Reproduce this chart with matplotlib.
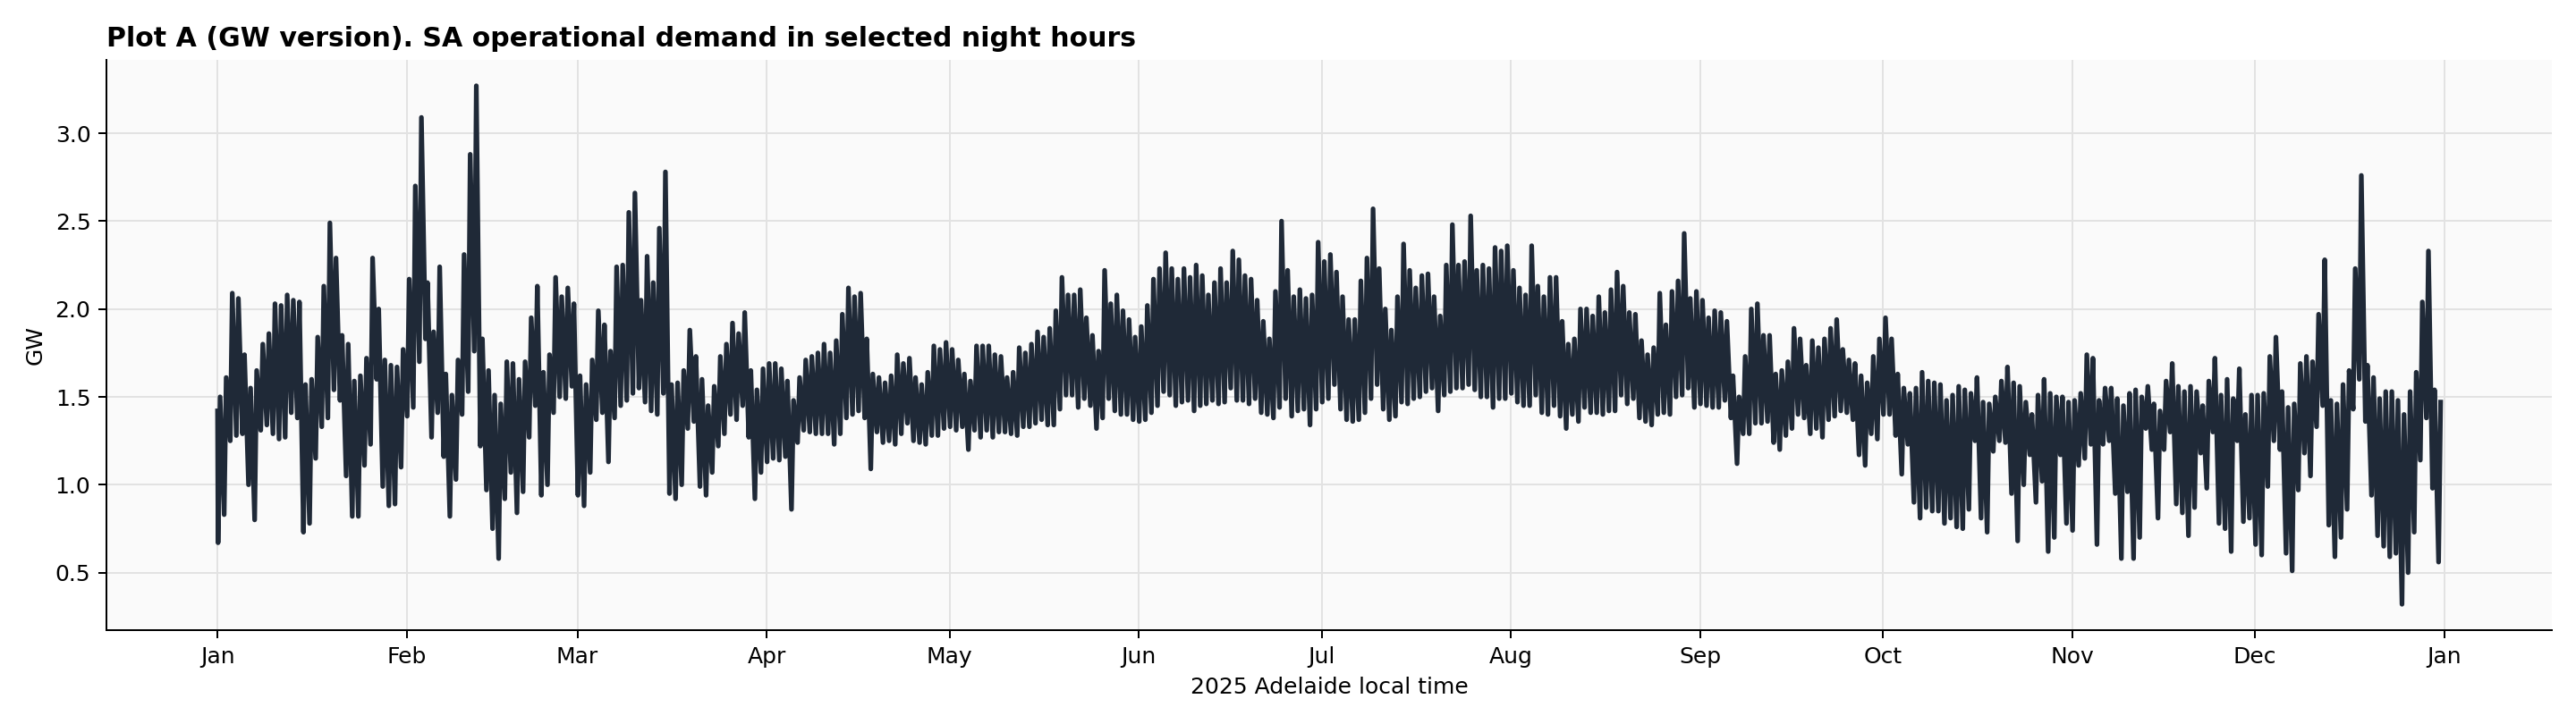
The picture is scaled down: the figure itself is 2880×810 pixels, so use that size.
import numpy as np
import matplotlib
matplotlib.use("Agg")
import matplotlib.pyplot as plt
import matplotlib.dates as mdates

# SA operational demand (GW), two selected night readings per day of 2025
# first reading of the year (midnight, 1 Jan)
first_reading_gw = 1.42

# daily trough (earlier night hour)
night_low = [
    # Jan
    0.67, 0.83, 1.25, 1.28, 1.29, 1.00, 0.80, 1.31, 1.34, 1.29, 1.26, 1.27, 1.41, 1.38, 0.73, 0.78,
    1.15, 1.33, 1.38, 1.54, 1.48, 1.05, 0.82, 0.82, 1.11, 1.23, 1.60, 0.99, 0.88, 0.89, 1.10,
    # Feb
    1.39, 1.44, 1.70, 1.83, 1.27, 1.41, 1.16, 0.82, 1.03, 1.40, 1.53, 1.76, 1.22, 0.97, 0.75, 0.58,
    0.92, 1.07, 0.84, 0.96, 1.27, 1.45, 0.94, 1.00, 1.41, 1.50, 1.49, 1.56,
    # Mar
    0.94, 0.88, 1.07, 1.37, 1.41, 1.13, 1.38, 1.45, 1.48, 1.52, 1.55, 1.47, 1.42, 1.40, 1.52, 0.95,
    0.92, 1.00, 1.32, 1.36, 0.99, 0.94, 1.07, 1.22, 1.29, 1.40, 1.37, 1.45, 1.27, 0.92, 1.07,
    # Apr
    1.13, 1.15, 1.14, 1.16, 0.86, 1.24, 1.31, 1.30, 1.29, 1.29, 1.29, 1.23, 1.29, 1.38, 1.40, 1.42,
    1.38, 1.09, 1.30, 1.24, 1.25, 1.23, 1.29, 1.35, 1.25, 1.24, 1.23, 1.28, 1.28, 1.32,
    # May
    1.33, 1.31, 1.33, 1.20, 1.31, 1.27, 1.31, 1.27, 1.30, 1.30, 1.29, 1.28, 1.33, 1.33, 1.35, 1.37,
    1.34, 1.34, 1.43, 1.51, 1.51, 1.44, 1.49, 1.45, 1.32, 1.38, 1.49, 1.42, 1.40, 1.40, 1.37,
    # Jun
    1.36, 1.37, 1.41, 1.45, 1.53, 1.51, 1.45, 1.47, 1.48, 1.42, 1.45, 1.46, 1.48, 1.46, 1.47, 1.55,
    1.48, 1.48, 1.46, 1.49, 1.41, 1.40, 1.38, 1.44, 1.49, 1.39, 1.42, 1.43, 1.34, 1.43,
    # Jul
    1.47, 1.49, 1.57, 1.43, 1.37, 1.36, 1.37, 1.41, 1.49, 1.57, 1.43, 1.37, 1.39, 1.47, 1.46, 1.49,
    1.50, 1.53, 1.55, 1.42, 1.51, 1.53, 1.55, 1.55, 1.57, 1.54, 1.50, 1.50, 1.44, 1.49, 1.49,
    # Aug
    1.52, 1.47, 1.45, 1.45, 1.51, 1.41, 1.40, 1.45, 1.39, 1.32, 1.40, 1.36, 1.44, 1.41, 1.41, 1.40,
    1.42, 1.42, 1.51, 1.46, 1.49, 1.38, 1.36, 1.34, 1.40, 1.41, 1.40, 1.50, 1.51, 1.55, 1.44,
    # Sep
    1.46, 1.45, 1.44, 1.44, 1.48, 1.38, 1.12, 1.29, 1.29, 1.35, 1.35, 1.36, 1.24, 1.20, 1.28, 1.32,
    1.40, 1.38, 1.29, 1.32, 1.27, 1.37, 1.39, 1.42, 1.41, 1.37, 1.17, 1.11, 1.29, 1.26,
    # Oct
    1.40, 1.40, 1.28, 1.06, 1.23, 0.90, 0.81, 0.87, 0.85, 0.85, 0.78, 0.81, 0.76, 0.75, 0.86, 1.25,
    0.81, 0.73, 1.19, 1.25, 1.24, 0.95, 0.68, 1.00, 1.17, 0.90, 1.02, 0.62, 0.70, 1.17, 0.78,
    # Nov
    0.74, 1.11, 1.15, 1.23, 0.66, 1.23, 1.25, 0.95, 0.58, 0.96, 0.58, 0.70, 1.32, 1.20, 0.81, 1.20,
    1.30, 0.89, 0.84, 0.71, 0.87, 1.18, 0.98, 1.30, 0.78, 0.75, 0.62, 1.25, 0.79, 0.81,
    # Dec
    0.66, 0.60, 0.99, 1.25, 1.20, 0.61, 0.51, 0.97, 1.18, 1.05, 1.33, 1.45, 0.77, 0.59, 0.70, 0.86,
    1.43, 1.60, 1.36, 0.94, 0.71, 0.65, 0.59, 0.61, 0.32, 0.50, 0.73, 1.14, 1.38, 0.98, 0.56,
]

# daily peak (later night hour)
night_high = [
    # Jan
    1.50, 1.61, 2.09, 2.06, 1.74, 1.55, 1.65, 1.80, 1.86, 2.03, 2.02, 2.08, 2.05, 2.04, 1.57, 1.60,
    1.84, 2.13, 2.49, 2.29, 1.85, 1.80, 1.59, 1.62, 1.72, 2.29, 2.00, 1.71, 1.68, 1.67, 1.77,
    # Feb
    2.17, 2.70, 3.09, 2.15, 1.87, 2.24, 1.63, 1.51, 1.71, 2.31, 2.88, 3.27, 1.83, 1.65, 1.51, 1.46,
    1.70, 1.69, 1.60, 1.70, 1.95, 2.13, 1.64, 1.74, 2.18, 2.07, 2.12, 2.03,
    # Mar
    1.62, 1.57, 1.71, 1.99, 1.91, 1.76, 2.24, 2.25, 2.55, 2.66, 2.05, 2.30, 2.15, 2.46, 2.78, 1.57,
    1.58, 1.65, 1.88, 1.73, 1.60, 1.45, 1.56, 1.73, 1.80, 1.92, 1.86, 1.98, 1.65, 1.54, 1.66,
    # Apr
    1.69, 1.69, 1.66, 1.59, 1.48, 1.61, 1.71, 1.73, 1.75, 1.80, 1.75, 1.82, 1.97, 2.12, 2.07, 2.09,
    1.83, 1.63, 1.61, 1.58, 1.62, 1.74, 1.69, 1.72, 1.61, 1.57, 1.64, 1.79, 1.77, 1.81,
    # May
    1.77, 1.71, 1.63, 1.59, 1.79, 1.79, 1.79, 1.74, 1.73, 1.61, 1.64, 1.78, 1.75, 1.80, 1.87, 1.84,
    1.89, 1.99, 2.18, 2.08, 2.08, 2.11, 1.95, 1.85, 1.76, 2.22, 2.03, 2.08, 1.99, 1.94, 1.84,
    # Jun
    1.90, 2.02, 2.17, 2.23, 2.32, 2.23, 2.17, 2.23, 2.18, 2.25, 2.19, 2.08, 2.15, 2.23, 2.15, 2.33,
    2.28, 2.19, 2.17, 2.05, 1.93, 1.83, 2.10, 2.50, 2.22, 2.07, 2.11, 2.06, 2.08, 2.38,
    # Jul
    2.27, 2.31, 2.21, 2.07, 1.94, 1.94, 2.16, 2.29, 2.57, 2.23, 2.00, 1.88, 2.07, 2.37, 2.22, 2.12,
    2.19, 2.20, 2.07, 1.96, 2.25, 2.48, 2.25, 2.27, 2.53, 2.22, 2.25, 2.23, 2.35, 2.33, 2.36,
    # Aug
    2.22, 2.12, 2.08, 2.36, 2.13, 2.07, 2.18, 2.18, 1.93, 1.80, 1.83, 2.00, 2.00, 1.96, 2.07, 1.98,
    2.11, 2.21, 2.13, 1.98, 1.97, 1.82, 1.74, 1.78, 2.09, 1.91, 2.10, 2.16, 2.43, 2.06, 2.10,
    # Sep
    2.05, 1.95, 1.99, 1.98, 1.93, 1.62, 1.50, 1.73, 2.00, 2.03, 1.85, 1.85, 1.63, 1.65, 1.70, 1.89,
    1.83, 1.68, 1.82, 1.78, 1.83, 1.89, 1.94, 1.77, 1.71, 1.69, 1.62, 1.58, 1.73, 1.83,
    # Oct
    1.95, 1.83, 1.63, 1.55, 1.52, 1.55, 1.64, 1.59, 1.58, 1.57, 1.48, 1.51, 1.56, 1.54, 1.52, 1.61,
    1.47, 1.46, 1.50, 1.59, 1.67, 1.58, 1.56, 1.47, 1.40, 1.51, 1.60, 1.52, 1.50, 1.50, 1.47,
    # Nov
    1.48, 1.52, 1.74, 1.72, 1.48, 1.55, 1.55, 1.49, 1.45, 1.52, 1.54, 1.50, 1.56, 1.46, 1.42, 1.59,
    1.69, 1.56, 1.53, 1.56, 1.53, 1.45, 1.59, 1.72, 1.51, 1.60, 1.49, 1.66, 1.40, 1.51,
    # Dec
    1.51, 1.52, 1.73, 1.84, 1.53, 1.44, 1.46, 1.69, 1.73, 1.70, 1.97, 2.28, 1.48, 1.46, 1.57, 1.65,
    2.23, 2.76, 1.68, 1.61, 1.49, 1.53, 1.53, 1.48, 1.40, 1.53, 1.64, 2.04, 2.33, 1.54, 1.47,
]

sample_hours = [2, 10]   # two readings per day

days = np.arange("2025-01-01", "2026-01-01", dtype="datetime64[D]")
t_low = days.astype("datetime64[h]") + np.timedelta64(sample_hours[0], "h")
t_high = days.astype("datetime64[h]") + np.timedelta64(sample_hours[1], "h")

times = np.concatenate([[days[0].astype("datetime64[h]")],
                        np.column_stack([t_low, t_high]).ravel()])
values = np.concatenate([[first_reading_gw],
                         np.column_stack([night_low, night_high]).ravel()])

fig = plt.figure(figsize=(16, 4.5), dpi=180)
ax = fig.add_axes([0.0413, 0.1296, 0.9493, 0.7877])
ax.set_facecolor("#fafafa")

ax.plot(times.astype("datetime64[m]").astype(object), values, color="#1f2937", lw=2.1)

ax.xaxis.set_major_locator(mdates.MonthLocator())
ax.xaxis.set_major_formatter(mdates.DateFormatter("%b"))
ax.grid(True, color="#e2e2e2", lw=0.8)
ax.set_axisbelow(True)
for s in ["top", "right"]:
    ax.spines[s].set_visible(False)

ax.tick_params(labelsize=10)
ax.set_title("Plot A (GW version). SA operational demand in selected night hours",
             loc="left", fontsize=12, fontweight="bold")
ax.set_xlabel("2025 Adelaide local time", fontsize=10)
ax.set_ylabel("GW", fontsize=10)

fig.savefig("out.png", dpi=180)
